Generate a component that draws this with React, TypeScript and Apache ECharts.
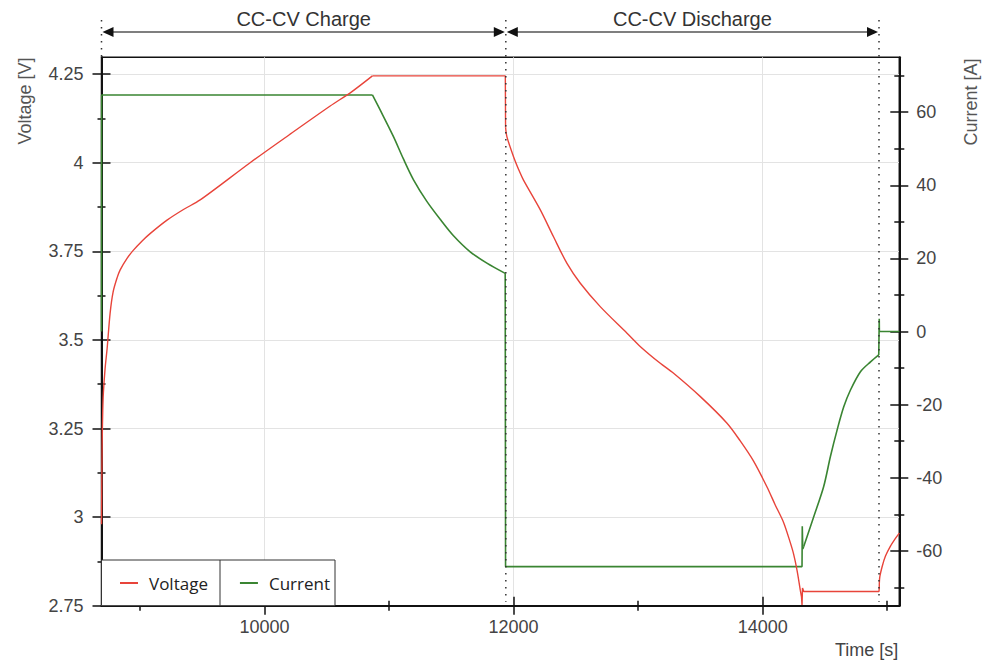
import { useEffect, useRef } from "react";
import * as echarts from "echarts";

// ---- data ----
const voltageTime = [
  8692, 8697, 8702, 8707, 8721, 8737, 8761, 8785, 8817, 8841, 8897, 8945, 9020, 9082, 9218, 9350, 9484,
  9885, 10200, 10528, 10700, 10867, 11934, 11936, 11947, 12000, 12048, 12080, 12215, 12321, 12429, 12536,
  12696, 12911, 13019, 13178, 13285, 13500, 13714, 13820, 13927, 14035, 14100, 14168, 14220, 14249, 14276,
  14302, 14312, 14316, 14320, 14330, 14934, 14936, 14940, 14959, 14986, 15026, 15066, 15097,
];
const voltageValues = [
  2.98, 3.2, 3.3, 3.35, 3.42, 3.475, 3.575, 3.635, 3.675, 3.697, 3.73, 3.752, 3.78, 3.8, 3.838, 3.868, 3.895,
  4.0, 4.079, 4.16, 4.2, 4.245, 4.245, 4.1, 4.073, 4.017, 3.975, 3.951, 3.867, 3.791, 3.716, 3.66,
  3.594, 3.519, 3.481, 3.434, 3.406, 3.34, 3.265, 3.215, 3.158, 3.085, 3.035, 2.985, 2.93, 2.895, 2.85,
  2.794, 2.775, 2.752, 2.8, 2.79, 2.79, 2.8, 2.83, 2.86, 2.89, 2.918, 2.94, 2.955,
];
const currentTime = [
  8692, 8693, 10867, 10929, 11036, 11116, 11197, 11304, 11411, 11518, 11652, 11786, 11933, 11936, 14316,
  14318, 14322, 14329, 14410, 14490, 14544, 14598, 14651, 14705, 14785, 14866, 14932, 14936, 14937, 15097,
];
const currentValues = [
  0, 64.7, 64.7, 60.6, 53.3, 47.2, 41.5, 35.6, 30.7, 26.2, 21.8, 18.7, 15.9, -64.3, -64.3,
  -53.3, -59.5, -58.9, -50.7, -42.4, -34.2, -26.9, -20.6, -16.0, -11.0, -8.3, -6.4, 3.5, 0, 0,
];
// [first index, last index, smooth?] pieces of each trace
const voltagePieces: [number, number, boolean][] = [
  [0, 21, true],
  [21, 23, false],
  [23, 47, true],
  [47, 53, false],
  [53, 59, true],
];
const currentPieces: [number, number, boolean][] = [
  [0, 2, false],
  [2, 12, true],
  [12, 17, false],
  [17, 26, true],
  [26, 29, false],
];

const timeTicks = [10000, 12000, 14000];
const timeMinorTicks = [9000, 11000, 13000, 15000];
const voltageTicks = [2.75, 3, 3.25, 3.5, 3.75, 4, 4.25];
const voltageMinorTicks = [2.875, 3.125, 3.375, 3.625, 3.875, 4.125];
const currentTicks = [-60, -40, -20, 0, 20, 40, 60];
const currentMinorTicks = [-70, -50, -30, -10, 10, 30, 50, 70];
const phaseBounds = [8692, 11938, 14934];
const phaseLabels = ["CC-CV Charge", "CC-CV Discharge"];
const seriesNames = ["Voltage", "Current"];
const axisNames = ["Voltage [V]", "Current [A]", "Time [s]"];

const timeRange = [8692, 15097];
const voltageRange = [2.75, 4.2975];
const currentRange = [-75, 75];

const RED = "#e8443a";
const GREEN = "#3a8532";
const FONT = "'Liberation Sans', Arial, sans-serif";

function buildPieces(
  name: string,
  times: number[],
  values: number[],
  pieces: [number, number, boolean][],
  yAxisIndex: number,
  color: string,
  width: number,
  z: number
) {
  return pieces.map(([a, b, smooth]) => ({
    name,
    type: "line",
    xAxisIndex: 0,
    yAxisIndex,
    data: times.slice(a, b + 1).map((t, i) => [t, values[a + i]]),
    symbol: "none",
    showSymbol: false,
    smooth: smooth ? 0.3 : false,
    lineStyle: { color, width },
    itemStyle: { color },
    z,
  }));
}

export default function App() {
  const ref = useRef<HTMLDivElement>(null);

  useEffect(() => {
    const chart = echarts.init(ref.current!, null, { renderer: "svg" });
    const labelStyle = { fontSize: 18, color: "#444", fontFamily: FONT, formatter: (v: number) => String(v) };
    const tickLine = { color: "#111", width: 1.5 };

    const xTickAxis = (values: number[], offset: number, len: number) => ({
      type: "value",
      gridIndex: 0,
      position: "bottom",
      min: timeRange[0],
      max: timeRange[1],
      offset,
      axisLine: { show: false, onZero: false },
      axisTick: { show: true, length: len, customValues: values, lineStyle: tickLine },
      axisLabel: { show: false },
      splitLine: { show: false },
    });
    const yTickAxis = (
      values: number[],
      offset: number,
      len: number,
      pos: string,
      range: number[]
    ) => ({
      type: "value",
      gridIndex: 0,
      position: pos,
      min: range[0],
      max: range[1],
      offset,
      axisLine: { show: false, onZero: false },
      axisTick: { show: true, length: len, customValues: values, lineStyle: tickLine },
      axisLabel: { show: false },
      splitLine: { show: false },
    });

    chart.setOption({
      animation: false,
      backgroundColor: "#fff",
      grid: {
        left: 101.5,
        right: 84.7,
        top: 57.3,
        bottom: 58.3,
        show: true,
        borderColor: "#111",
        borderWidth: 1.5,
        backgroundColor: "transparent",
      },
      xAxis: [
        {
          type: "value",
          position: "bottom",
          min: timeRange[0],
          max: timeRange[1],
          axisLine: { show: true, onZero: false, lineStyle: { color: "#111", width: 2 } },
          axisTick: { show: false, customValues: timeTicks },
          axisLabel: { ...labelStyle, customValues: timeTicks, margin: 12 },
          splitLine: { show: true, lineStyle: { color: "#e3e3e3", width: 1 } },
        },
        xTickAxis(timeTicks, -9, 18),
        xTickAxis(timeMinorTicks, -5, 10),
      ],
      yAxis: [
        {
          type: "value",
          position: "left",
          min: voltageRange[0],
          max: voltageRange[1],
          axisLine: { show: true, onZero: false, lineStyle: { color: "#111", width: 2 } },
          axisTick: { show: false, customValues: voltageTicks },
          axisLabel: { ...labelStyle, customValues: voltageTicks, margin: 18 },
          splitLine: { show: true, lineStyle: { color: "#e3e3e3", width: 1 } },
        },
        yTickAxis(voltageTicks, -9, 18, "left", voltageRange),
        yTickAxis(voltageMinorTicks, -4, 8, "left", voltageRange),
        {
          type: "value",
          position: "right",
          min: currentRange[0],
          max: currentRange[1],
          axisLine: { show: true, onZero: false, lineStyle: { color: "#111", width: 2 } },
          axisTick: { show: false, customValues: currentTicks },
          axisLabel: { ...labelStyle, customValues: currentTicks, margin: 17 },
          splitLine: { show: false },
        },
        yTickAxis(currentTicks, -9, 18, "right", currentRange),
        yTickAxis(currentMinorTicks, -5, 10, "right", currentRange),
      ],
      legend: {
        data: seriesNames,
        left: 120,
        top: 573,
        icon: "rect",
        itemWidth: 18,
        itemHeight: 2,
        itemGap: 32,
        padding: 0,
        z: 10,
        textStyle: {
          fontFamily: "'Open Sans', sans-serif",
          fontSize: 17,
          color: "#222",
          padding: [0, 0, 0, 6],
          lineHeight: 20,
        },
      },
      series: [
        ...buildPieces(seriesNames[1], currentTime, currentValues, currentPieces, 3, GREEN, 1.6, 2),
        ...buildPieces(seriesNames[0], voltageTime, voltageValues, voltagePieces, 0, RED, 1.4, 3),
      ],
    });

    const xs = phaseBounds.map((t) => chart.convertToPixel({ xAxisIndex: 0 }, t) as number);
    const top = chart.convertToPixel({ yAxisIndex: 0 }, voltageRange[1]) as number;
    const bottom = chart.convertToPixel({ yAxisIndex: 0 }, voltageRange[0]) as number;
    const left = chart.convertToPixel({ xAxisIndex: 0 }, timeRange[0]) as number;
    const right = chart.convertToPixel({ xAxisIndex: 0 }, timeRange[1]) as number;
    const arrowY = 32;
    const els: any[] = [];
    xs.forEach((x, i) => {
      els.push({
        type: "line",
        z: 20,
        shape: { x1: x, y1: 20, x2: x, y2: i === 0 ? top : bottom - 4 },
        style: { stroke: "#333", lineWidth: 1.5, lineDash: [1.5, 5.5] },
      });
    });
    for (let i = 0; i < phaseLabels.length; i++) {
      const a = xs[i];
      const b = xs[i + 1];
      els.push({
        type: "line",
        z: 20,
        shape: { x1: a + 4, y1: arrowY, x2: b - 4, y2: arrowY },
        style: { stroke: "#555", lineWidth: 1.5 },
      });
      els.push({
        type: "polygon",
        z: 21,
        shape: { points: [[a + 1, arrowY], [a + 12, arrowY - 5], [a + 12, arrowY + 5]] },
        style: { fill: "#111" },
      });
      els.push({
        type: "polygon",
        z: 21,
        shape: { points: [[b - 1, arrowY], [b - 12, arrowY - 5], [b - 12, arrowY + 5]] },
        style: { fill: "#111" },
      });
      els.push({
        type: "text",
        z: 21,
        x: (a + b) / 2,
        y: 19,
        style: {
          text: phaseLabels[i],
          fontSize: 20,
          fontFamily: FONT,
          fill: "#333",
          align: "center",
          verticalAlign: "middle",
        },
      });
    }
    els.push({
      type: "text",
      x: 25,
      y: 101,
      rotation: Math.PI / 2,
      style: { text: axisNames[0], fontSize: 18, fontFamily: FONT, fill: "#555", align: "center", verticalAlign: "middle" },
    });
    els.push({
      type: "text",
      x: 971,
      y: 102,
      rotation: Math.PI / 2,
      style: { text: axisNames[1], fontSize: 18, fontFamily: FONT, fill: "#555", align: "center", verticalAlign: "middle" },
    });
    els.push({
      type: "text",
      x: right - 1,
      y: 650,
      style: { text: axisNames[2], fontSize: 18, fontFamily: FONT, fill: "#444", align: "right", verticalAlign: "middle" },
    });
    // legend frame
    els.push({
      type: "rect",
      z: 5,
      shape: { x: left, y: 560, width: 233.5, height: bottom - 560 },
      style: { fill: "#fff", stroke: "#333", lineWidth: 1 },
    });
    els.push({
      type: "line",
      z: 6,
      shape: { x1: 220, y1: 560, x2: 220, y2: bottom },
      style: { stroke: "#333", lineWidth: 1 },
    });
    chart.setOption({ graphic: els });

    return () => chart.dispose();
  }, []);

  return (
    <div
      ref={ref}
      style={{ position: "fixed", left: 0, top: 0, width: 984, height: 664, background: "#fff" }}
    />
  );
}
